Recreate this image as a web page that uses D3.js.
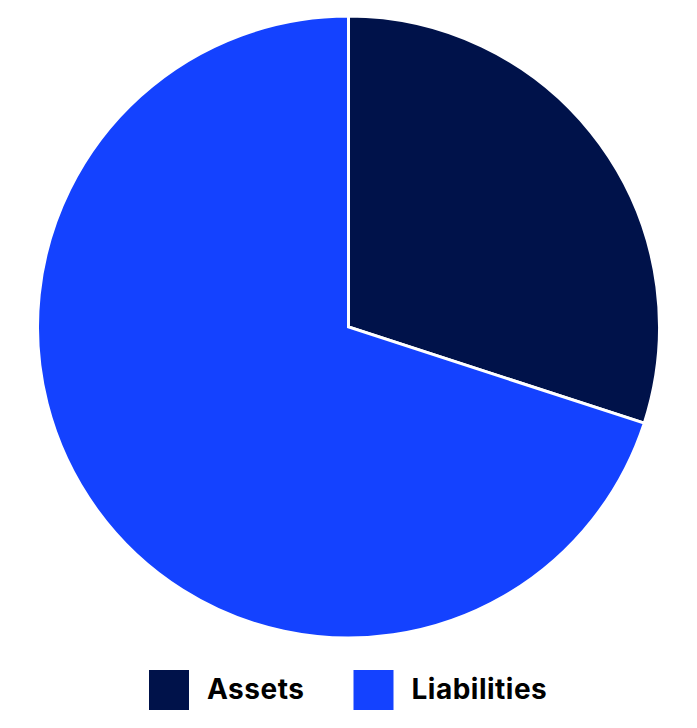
<!DOCTYPE html>
<html>
<head>
<meta charset="utf-8">
<script src="https://cdn.jsdelivr.net/npm/d3@7"></script>
<style>
  html, body { margin: 0; padding: 0; background: #fff; }
  svg { display: block; }
</style>
</head>
<body>
<svg id="canvas"></svg>
<script>
let categories = ["Assets", "Liabilities"];
let values = [30, 70];
let colors = ["#00124a", "#1442ff"];

let width = 697;
let height = 728;
let cx = 348.5, cy = 327, radius = 311;

let canvas = d3.select("#canvas")
  .attr("width", width)
  .attr("height", height);

let data = categories.map((c, i) => ({ name: c, value: values[i] }));

let color = d3.scaleOrdinal().domain(categories).range(colors);

let pie = d3.pie().sort(null).value(d => d.value);
let arc = d3.arc().innerRadius(0).outerRadius(radius);

canvas.append("g")
  .attr("transform", "translate(" + cx + "," + cy + ")")
  .selectAll("path")
  .data(pie(data))
  .enter()
  .append("path")
  .attr("d", arc)
  .attr("fill", d => color(d.data.name))
  .attr("stroke", "#fff")
  .attr("stroke-width", 3)
  .attr("stroke-linejoin", "miter");

// legend
let legendX = d3.scaleOrdinal().domain(categories).range([149, 353.5]);
let legend = canvas.append("g")
  .selectAll("g")
  .data(categories)
  .enter()
  .append("g")
  .attr("transform", d => "translate(" + legendX(d) + ",670)");

legend.append("rect")
  .attr("width", 40)
  .attr("height", 40)
  .attr("fill", d => color(d));

legend.append("text")
  .attr("x", 58)
  .attr("y", 28.5)
  .attr("font-family", "Inter, 'Noto Sans', sans-serif")
  .attr("font-weight", 700)
  .attr("font-size", 28)
  .attr("letter-spacing", 0.5)
  .attr("fill", "#000")
  .text(d => d);
</script>
</body>
</html>
